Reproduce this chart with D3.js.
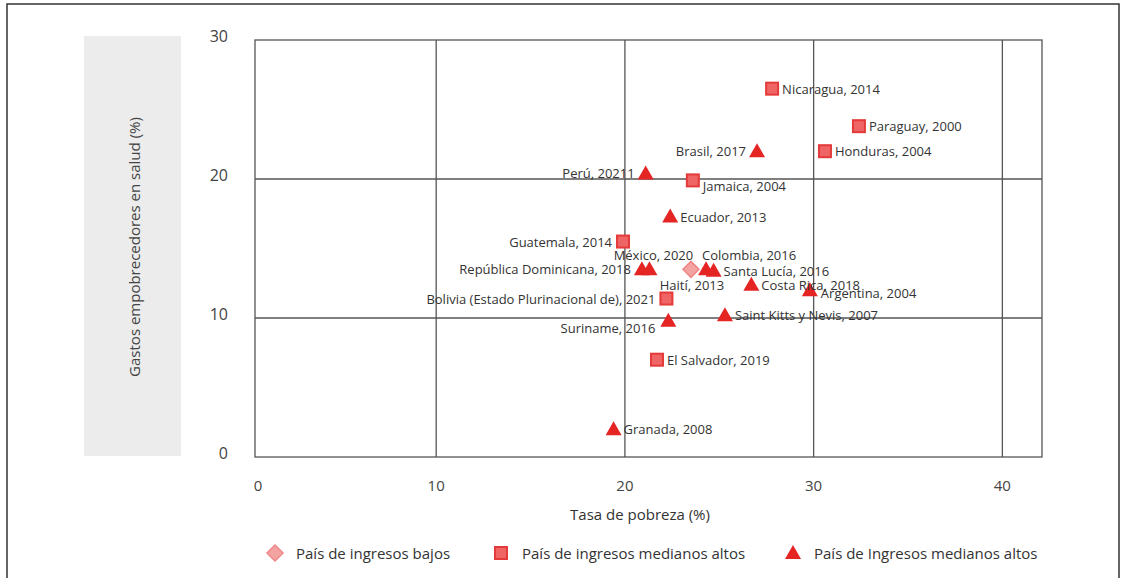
<!DOCTYPE html>
<html>
<head>
<meta charset="utf-8">
<script src="https://cdn.jsdelivr.net/npm/d3@7"></script>
<style>
  html, body { margin: 0; padding: 0; background: #fff; }
  svg { display: block; font-family: "Open Sans", "Noto Sans", sans-serif; }
</style>
</head>
<body>
<svg id="chart" width="1121" height="578"></svg>
<script>
// ---- data ----
const countries = ["Nicaragua, 2014", "Paraguay, 2000", "Honduras, 2004", "Brasil, 2017", "Perú, 20211",
  "Jamaica, 2004", "Ecuador, 2013", "Guatemala, 2014", "República Dominicana, 2018", "México, 2020",
  "Haití, 2013", "Colombia, 2016", "Santa Lucía, 2016", "Costa Rica, 2018", "Argentina, 2004",
  "Bolivia (Estado Plurinacional de), 2021", "Saint Kitts y Nevis, 2007", "Suriname, 2016",
  "El Salvador, 2019", "Granada, 2008"];
const poverty = [27.8, 32.4, 30.6, 27.0, 21.1, 23.6, 22.4, 19.9, 20.9, 21.3,
  23.5, 24.3, 24.7, 26.7, 29.8, 22.2, 25.3, 22.3, 21.7, 19.4];
const impoverishing = [26.5, 23.8, 22.0, 22.0, 20.4, 19.9, 17.3, 15.5, 13.5, 13.5,
  13.5, 13.5, 13.4, 12.4, 12.0, 11.4, 10.2, 9.8, 7.0, 2.0];
const groups = ["sq", "sq", "sq", "tri", "tri", "sq", "tri", "sq", "tri", "tri",
  "dia", "tri", "tri", "tri", "tri", "sq", "tri", "tri", "sq", "tri"];
const labelSide = ["r", "r", "r", "l", "l", "rb", "r", "l", "l", "a",
  "b", "ar", "r", "r", "rb2", "l", "r", "lb", "r", "r"];
const xTicks = [0, 10, 20, 30, 40];
const yTicks = [0, 10, 20, 30];
const legendLabels = ["País de ingresos bajos", "País de ingresos medianos altos", "País de Ingresos medianos altos"];
const legendGroups = ["dia", "sq", "tri"];
const xTitle = "Tasa de pobreza (%)";
const yTitle = "Gastos empobrecedores en salud (%)";

// ---- layout ----
const svg = d3.select("#chart");
const L = 255, R = 1042, T = 40, B = 457;
const x = d3.scaleLinear().domain([0.4, 42.1]).range([L, R]);
const y = d3.scaleLinear().domain([0, 30]).range([B, T]);

// outer frame
svg.append("rect").attr("x", 7).attr("y", 4).attr("width", 1112).attr("height", 590)
  .attr("fill", "none").attr("stroke", "#333").attr("stroke-width", 1.5);

// grey band behind y title
svg.append("rect").attr("x", 84).attr("y", 36).attr("width", 97).attr("height", 420).attr("fill", "#ececec");
svg.append("text").attr("transform", "translate(134,247) rotate(-90)")
  .attr("text-anchor", "middle").attr("dominant-baseline", "central")
  .attr("font-size", 15).attr("fill", "#444").text(yTitle);

// grid
const grid = svg.append("g").attr("stroke", "#555").attr("stroke-width", 1.3);
xTicks.filter(v => x(v) > L + 1 && x(v) < R - 1).forEach(v => {
  grid.append("line").attr("x1", x(v)).attr("x2", x(v)).attr("y1", T).attr("y2", B);
});
yTicks.filter(v => y(v) > T + 1 && y(v) < B - 1).forEach(v => {
  grid.append("line").attr("x1", L).attr("x2", R).attr("y1", y(v)).attr("y2", y(v));
});
svg.append("rect").attr("x", L).attr("y", T).attr("width", R - L).attr("height", B - T)
  .attr("fill", "none").attr("stroke", "#555").attr("stroke-width", 1.3);

// tick labels
svg.append("g").selectAll("text").data(xTicks).join("text")
  .attr("x", d => Math.max(x(d), L + 3)).attr("y", 485)
  .attr("text-anchor", "middle").attr("dominant-baseline", "central")
  .attr("font-size", 15).attr("fill", "#444").text(d => d);
svg.append("g").selectAll("text").data(yTicks).join("text")
  .attr("x", 228).attr("y", d => y(d) - 4)
  .attr("text-anchor", "end").attr("dominant-baseline", "central")
  .attr("font-size", 16).attr("fill", "#444").text(d => d);

svg.append("text").attr("x", 640).attr("y", 514).attr("text-anchor", "middle")
  .attr("dominant-baseline", "central").attr("font-size", 15).attr("fill", "#333").text(xTitle);

// markers
function drawMarker(g, type, cx, cy) {
  if (type === "sq") {
    g.append("rect").attr("x", cx - 6).attr("y", cy - 6).attr("width", 12).attr("height", 12)
      .attr("fill", "#ef6464").attr("stroke", "#e53a3a").attr("stroke-width", 2);
  } else if (type === "tri") {
    g.append("path").attr("d", `M${cx},${cy - 8}L${cx + 8},${cy + 6}L${cx - 8},${cy + 6}Z`)
      .attr("fill", "#e52424");
  } else {
    g.append("path").attr("d", `M${cx},${cy - 8}L${cx + 8},${cy}L${cx},${cy + 8}L${cx - 8},${cy}Z`)
      .attr("fill", "#f4a3a3").attr("stroke", "#ef8787").attr("stroke-width", 1.5);
  }
}

const pts = svg.append("g");
countries.forEach((c, i) => drawMarker(pts, groups[i], x(poverty[i]), y(impoverishing[i])));

// labels
const offs = {
  r:   {dx: 10,  dy: 0,   a: "start"},
  l:   {dx: -11, dy: 0,   a: "end"},
  rb:  {dx: 10,  dy: 6,   a: "start"},
  rb2: {dx: 11,  dy: 3,   a: "start"},
  lb:  {dx: -13, dy: 7,   a: "end"},
  a:   {dx: 4,   dy: -14, a: "middle"},
  ar:  {dx: -4,  dy: -14, a: "start"},
  b:   {dx: 1,   dy: 16,  a: "middle"}
};
const lab = svg.append("g");
countries.forEach((c, i) => {
  const o = offs[labelSide[i]];
  lab.append("text").attr("x", x(poverty[i]) + o.dx).attr("y", y(impoverishing[i]) + o.dy)
    .attr("text-anchor", o.a).attr("dominant-baseline", "central")
    .attr("font-size", 13).attr("fill", "#333").text(c);
});

// legend
const legX = [275, 501, 793];
const leg = svg.append("g");
legendLabels.forEach((t, i) => {
  drawMarker(leg, legendGroups[i], legX[i], 553);
  leg.append("text").attr("x", legX[i] + 21).attr("y", 553).attr("dominant-baseline", "central")
    .attr("font-size", 15).attr("fill", "#333").text(t);
});
</script>
</body>
</html>
